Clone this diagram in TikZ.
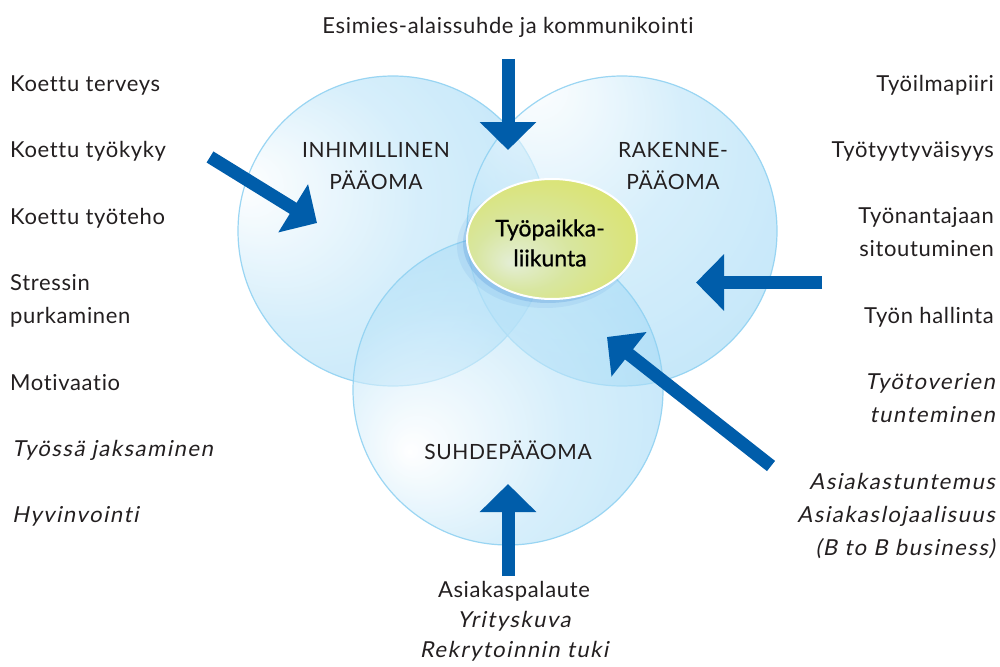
\documentclass[tikz,border=0pt]{standalone}
\usepackage{fontspec}
\setmainfont{Lato}[LetterSpace=3, Ligatures=NoCommon, ItalicFont=Lato, ItalicFeatures={FakeSlant=0.2, LetterSpace=7}]
\usetikzlibrary{arrows.meta,shapes.geometric}
\definecolor{arrowblue}{HTML}{005DAA}
\definecolor{textgray}{HTML}{231F20}
\definecolor{cedge}{RGB}{128,203,242}
\definecolor{cmid}{RGB}{190,229,249}
\definecolor{crim}{RGB}{145,210,242}
\definecolor{shadowblue}{RGB}{30,110,200}
\pgfdeclareradialshading{lsh}{\pgfpoint{-25bp}{8bp}}{color(0bp)=(white); color(20bp)=(cmid); color(55bp)=(cedge)}
\pgfdeclareradialshading{rsh}{\pgfpoint{-15bp}{25bp}}{color(0bp)=(white); color(20bp)=(cmid); color(60bp)=(cedge)}
\pgfdeclareradialshading{bsh}{\pgfpoint{-16bp}{-10bp}}{color(0bp)=(white); color(20bp)=(cmid); color(58bp)=(cedge)}
\pgfdeclareradialshading{ellsh}{\pgfpoint{-12bp}{-10bp}}{color(0bp)=(rgb,255:red,228;green,238;blue,214); color(14bp)=(rgb,255:red,216;green,230;blue,160); color(34bp)=(rgb,255:red,219;green,227;blue,108); color(50bp)=(rgb,255:red,221;green,228;blue,104)}
\tikzset{
  venn/.style={circle, minimum size=310pt, inner sep=0pt, fill opacity=0.62, draw=crim, draw opacity=0.9, line width=1.2pt},
  bigarrow/.style={draw=arrowblue, line width=13pt, -{Triangle[length=28pt, width=55pt]}},
  lbl/.style={text=textgray, font=\fontsize{22}{33}\selectfont, inner sep=0pt},
  capt/.style={text=textgray, font=\fontsize{21}{32}\selectfont, inner sep=0pt, align=center},
}
\begin{document}
\begin{tikzpicture}[x=1pt,y=-1pt]
\useasboundingbox (0,0) rectangle (1000,666);
\fill[white] (0,0) rectangle (1000,666);
% circles
\node[venn, shading=lsh] (inh) at (393,231) {};
\node[venn, shading=rsh] (rak) at (622,231) {};
\node[venn, shading=bsh] (suh) at (508,390) {};
% shadow of ellipse
\fill[shadowblue, opacity=0.08] (545,246) ellipse [x radius=88pt, y radius=62pt];
\fill[shadowblue, opacity=0.18] (548,243) ellipse [x radius=85pt, y radius=60pt];
% central ellipse
\node[shape=ellipse, minimum width=170pt, minimum height=120pt, inner sep=0pt, shading=ellsh, draw=white, line width=2pt] (tpl) at (552,239) {};
\node[text=black, font=\fontsize{23}{30}\selectfont\addfontfeature{LetterSpace=0, FakeBold=0.8}, align=center, inner sep=0pt] (tpltext) at (550,243) {Työpaikka-\\liikunta};
% circle captions
\node[capt] (inhtext) at (376,166) {INHIMILLINEN\\PÄÄOMA};
\node[capt] (raktext) at (673,166) {RAKENNE-\\PÄÄOMA};
\node[capt] (suhtext) at (508,450) {SUHDEPÄÄOMA};
% left column
\node[lbl, anchor=base west] (l1) at (10,92) {Koettu terveys};
\node[lbl, anchor=base west] (l2) at (10,157) {Koettu työkyky};
\node[lbl, anchor=base west] (l3) at (10,224) {Koettu työteho};
\node[lbl, anchor=base west, align=left] (l4) at (10,323) {Stressin\\purkaminen};
\node[lbl, anchor=base west] (l5) at (10,390) {Motivaatio};
\node[lbl, anchor=base west] (l6) at (12,456) {\itshape Työssä jaksaminen};
\node[lbl, anchor=base west] (l7) at (12,522) {\itshape Hyvinvointi};
% right column
\node[lbl, anchor=base east] (r1) at (994,92) {Työilmapiiri};
\node[lbl, anchor=base east] (r2) at (994,157) {Työtyytyväisyys};
\node[lbl, anchor=base east, align=right] (r3) at (994,256) {Työnantajaan\\sitoutuminen};
\node[lbl, anchor=base east] (r4) at (994,323) {Työn hallinta};
\node[lbl, anchor=base east, align=right] (r5) at (995,422) {\itshape Työtoverien\\\itshape tunteminen};
\node[lbl, anchor=base east, align=right] (r6) at (995,555) {\itshape Asiakastuntemus\\\itshape Asiakaslojaalisuus\\\itshape (B to B business)};
% top and bottom
\node[lbl, anchor=base] (t1) at (508,34) {Esimies-alaissuhde ja kommunikointi};
\node[lbl, anchor=base, align=center, font=\fontsize{22}{30}\selectfont] (b1) at (514,657) {Asiakaspalaute\\\itshape Yrityskuva\\\itshape Rekrytoinnin tuki};
% arrow coordinates
\coordinate (topA) at (508,59);
\coordinate (topB) at (508,150);
\coordinate (botA) at (508,576);
\coordinate (botB) at (508,484);
\coordinate (rA) at (822,282.5);
\coordinate (rB) at (696,282.5);
\coordinate (ldA) at (210,157);
\coordinate (ldB) at (317,223);
\coordinate (rdA) at (771,466);
\coordinate (rdB) at (607,337);
\draw[bigarrow] (topA) -- (topB);
\draw[bigarrow] (botA) -- (botB);
\draw[bigarrow] (rA) -- (rB);
\draw[bigarrow] (ldA) -- (ldB);
\draw[bigarrow] (rdA) -- (rdB);
\end{tikzpicture}
\end{document}
